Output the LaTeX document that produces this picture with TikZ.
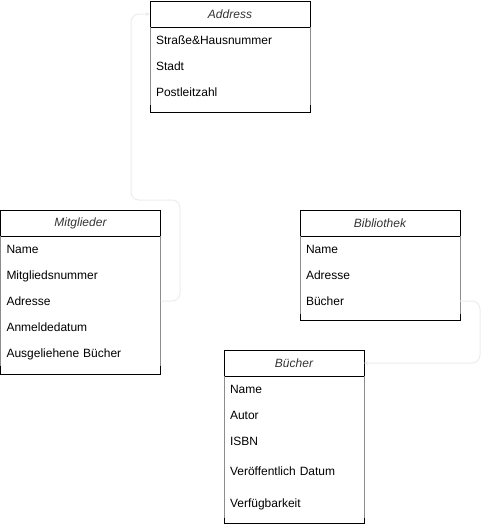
\documentclass[tikz,border=0pt]{standalone}
\usepackage{fontspec}
\setmainfont{Liberation Sans}
\usetikzlibrary{shapes}
\usetikzlibrary{arrows}
\usetikzlibrary{positioning}

\definecolor{faint}{RGB}{236,236,236}
\definecolor{rowgray}{RGB}{140,140,140}

\tikzset{
	head/.style={rectangle,draw,anchor=north west,minimum width=#1,minimum height=26pt,inner sep=0pt,outer sep=0pt,font=\fontsize{12}{14}\selectfont\itshape,text=black!80},
	head/.default=160pt,
	field/.style={rectangle,minimum height=26pt,text width=#1,text height=10pt,text depth=1pt,inner xsep=6pt,inner ysep=0pt,outer sep=0pt,align=left},
	field/.default=148pt,
	rowline/.style={draw=rowgray},
	link/.style={draw=faint,rounded corners=8pt,-stealth}
}

\begin{document}
\begin{tikzpicture}[x=1pt,y=-1pt,line width=1pt,font=\fontsize{12}{14}\selectfont]
	\useasboundingbox (0,0) rectangle (489,528);

	% Address
	\node[head] (ah) at (150,1) {Address};
	\node[field,below=0pt of ah] (a1) {Straße\&Hausnummer};
	\node[field,below=0pt of a1] (a2) {Stadt};
	\node[field,below=0pt of a2] (a3) {Postleitzahl};
	\draw (ah.south west) rectangle (310,112);
	\draw[rowline] (ah.south west) -- (a3.south west) (ah.south east) -- (a3.south east);

	% Mitglieder
	\node[head] (mh) at (0.5,210) {Mitglieder};
	\node[field,below=0pt of mh] (m1) {Name};
	\node[field,below=0pt of m1] (m2) {Mitgliedsnummer};
	\node[field,below=0pt of m2] (m3) {Adresse};
	\node[field,below=0pt of m3] (m4) {Anmeldedatum};
	\node[field,below=0pt of m4] (m5) {Ausgeliehene Bücher};
	\draw (mh.south west) rectangle (160.5,374);
	\draw[rowline] (mh.south west) -- (m5.south west) (mh.south east) -- (m5.south east);

	% Bibliothek
	\node[head] (bh) at (300,210) {Bibliothek};
	\node[field,below=0pt of bh] (b1) {Name};
	\node[field,below=0pt of b1] (b2) {Adresse};
	\node[field,below=0pt of b2] (b3) {Bücher};
	\draw (bh.south west) rectangle (460,320);
	\draw[rowline] (bh.south west) -- (b3.south west) (bh.south east) -- (b3.south east);

	% Buecher
	\node[head=140pt] (uh) at (224,350) {Bücher};
	\node[field=128pt,below=0pt of uh] (u1) {Name};
	\node[field=128pt,below=0pt of u1] (u2) {Autor};
	\node[field=128pt,below=0pt of u2] (u3) {ISBN};
	\node[field=128pt,below=0pt of u3,minimum height=34pt] (u4) {Veröffentlich Datum};
	\node[field=128pt,below=0pt of u4,minimum height=30pt] (u5) {Verfügbarkeit};
	\draw (uh.south west) rectangle (364,523);
	\draw[rowline] (uh.south west) -- (u5.south west) (uh.south east) -- (u5.south east);

	% connectors
	\draw[link] (m3.east) -- (180,301) -- (180,200) -- (131,200) -- (131,14) -- (ah.west);
	\draw[link] (b3.east) -- (480,301) -- (480,363) -- (uh.east);
\end{tikzpicture}
\end{document}
